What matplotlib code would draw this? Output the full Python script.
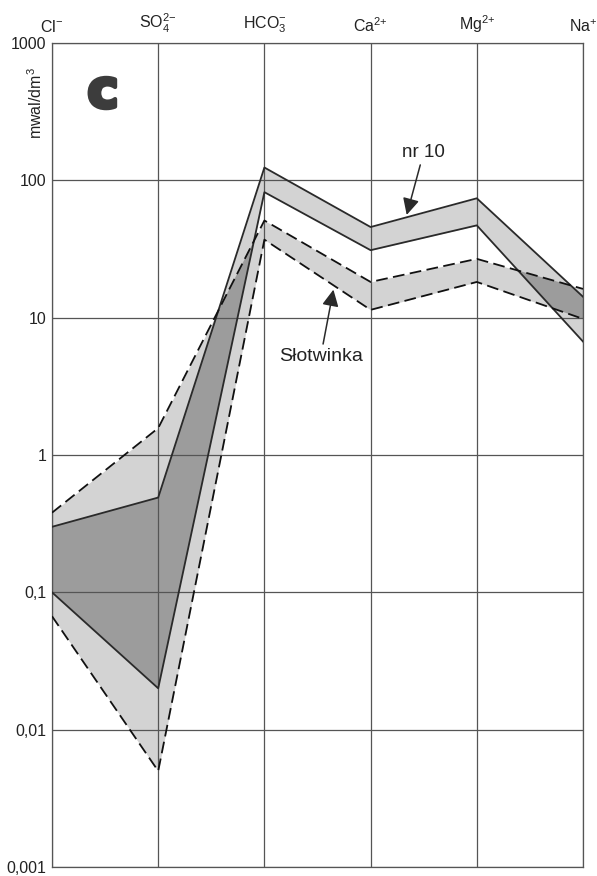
import numpy as np
import matplotlib
matplotlib.use("Agg")
import matplotlib.pyplot as plt
import matplotlib.patheffects as pe

# ---- data ----
ions = [r"Cl$^{-}$", r"SO$_4^{2{-}}$", r"HCO$_3^{-}$", r"Ca$^{2{+}}$", r"Mg$^{2{+}}$", r"Na$^{+}$"]
nr10_upper = [0.30, 0.49, 124, 45.7, 74, 14.2]
nr10_lower = [0.10, 0.020, 82, 31, 47, 6.7]
slot_upper = [0.38, 1.57, 51, 18.2, 26.8, 16.2]
slot_lower = [0.067, 0.005, 37, 11.4, 18.2, 9.8]
yticks = [0.001, 0.01, 0.1, 1, 10, 100, 1000]
ytick_labels = ["0,001", "0,01", "0,1", "1", "10", "100", "1000"]

plt.rcParams['font.family'] = ['Liberation Sans', 'DejaVu Sans']
plt.rcParams['mathtext.fontset'] = 'custom'
plt.rcParams['mathtext.rm'] = 'Liberation Sans'
plt.rcParams['mathtext.it'] = 'Liberation Sans:italic'
plt.rcParams['mathtext.bf'] = 'Liberation Sans:bold'

W, H = 597, 876
fig = plt.figure(figsize=(W / 100, H / 100), dpi=100)
ax = fig.add_axes([52 / W, 1 - 867 / H, (583 - 52) / W, (867 - 43) / H])

light = "#d3d3d3"
dark = "#9c9c9c"
grid_c = "#555555"

idx = np.arange(len(ions))
xs = np.linspace(0, len(ions) - 1, 6001)

def band(vals):
    return np.interp(xs, idx, np.log10(vals))

nu, nl = band(nr10_upper), band(nr10_lower)
su, sl = band(slot_upper), band(slot_lower)

ax.fill_between(xs, 10 ** nl, 10 ** nu, color=light, lw=0, zorder=1)
ax.fill_between(xs, 10 ** sl, 10 ** su, color=light, lw=0, zorder=1)
olo = np.maximum(nl, sl)
ohi = np.minimum(nu, su)
ax.fill_between(xs, 10 ** olo, 10 ** ohi, where=ohi >= olo, interpolate=True,
                color=dark, lw=0, zorder=1.5)

# grid
for x in idx:
    ax.axvline(x, color=grid_c, lw=0.9, zorder=2)
for y in yticks:
    ax.axhline(y, color=grid_c, lw=0.9, zorder=2)

# lines
dash = (0, (6.5, 3.0))
ax.plot(idx, nr10_upper, color="#2a2a2a", lw=1.3, zorder=3)
ax.plot(idx, nr10_lower, color="#2a2a2a", lw=1.3, zorder=3)
ax.plot(idx, slot_upper, color="#111111", lw=1.3, ls=dash, zorder=3)
ax.plot(idx, slot_lower, color="#111111", lw=1.3, ls=dash, zorder=3)

ax.set_yscale('log')
ax.set_ylim(0.001, 1000)
ax.set_xlim(0, len(ions) - 1)
ax.set_yticks(yticks)
ax.set_yticklabels(ytick_labels)
ax.minorticks_off()
ax.xaxis.tick_top()
ax.set_xticks(idx)
ax.set_xticklabels(ions)
ax.tick_params(axis='both', length=0, labelsize=11.5, colors="#222222")
ax.tick_params(axis='x', pad=6)
ax.tick_params(axis='y', pad=4)
for s in ax.spines.values():
    s.set_color(grid_c)
    s.set_linewidth(0.9)

ax.text(-0.03, 0.927, r"mwal/dm$^3$", transform=ax.transAxes, rotation=90,
        ha='center', va='center', fontsize=11.5, color="#222222")
ax.text(0.096, 0.94, "c", transform=ax.transAxes, ha='center', va='center',
        fontsize=38, fontweight='bold', family='DejaVu Sans', color="#3c3c3c",
        path_effects=[pe.withStroke(linewidth=3, foreground="#3c3c3c")])

arrow = dict(arrowstyle='-|>', color="#2a2a2a", lw=1.1, mutation_scale=25,
             shrinkA=1, shrinkB=0)
ax.annotate("nr 10", xy=(3.34, 56), xytext=(3.5, 160), ha='center', va='center',
            fontsize=13.5, color="#222222", arrowprops=arrow, zorder=4)
ax.annotate("Słotwinka", xy=(2.65, 16.0), xytext=(2.53, 5.2), ha='center', va='center',
            fontsize=14, color="#222222", arrowprops=arrow, zorder=4)

fig.savefig("out.png", dpi=100)
